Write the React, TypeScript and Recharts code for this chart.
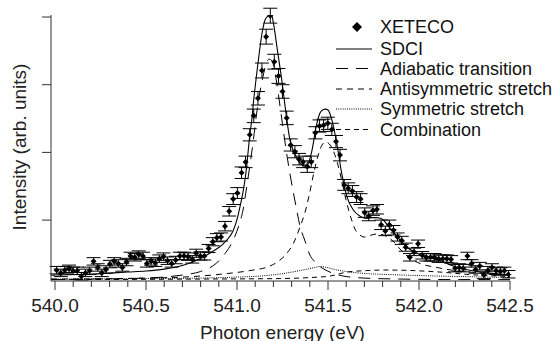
import React from 'react';
import { ComposedChart, Line, Scatter, ErrorBar, XAxis, YAxis, Legend, Label } from 'recharts';

// ---- XETECO data points ----
const energies = [
  540.009, 540.032, 540.054, 540.077, 540.099, 540.122, 540.145, 540.167, 540.19, 540.212,
  540.235, 540.257, 540.28, 540.302, 540.325, 540.348, 540.37, 540.393, 540.415, 540.438,
  540.46, 540.483, 540.505, 540.528, 540.551, 540.573, 540.596, 540.618, 540.641, 540.663,
  540.686, 540.709, 540.731, 540.754, 540.776, 540.799, 540.821, 540.844, 540.867, 540.889,
  540.912, 540.934, 540.957, 540.979, 541.002, 541.025, 541.047, 541.07, 541.092, 541.115,
  541.137, 541.16, 541.183, 541.205, 541.228, 541.25, 541.273, 541.295, 541.318, 541.341,
  541.363, 541.386, 541.408, 541.431, 541.453, 541.476, 541.499, 541.521, 541.544, 541.566,
  541.589, 541.611, 541.634, 541.657, 541.679, 541.702, 541.724, 541.747, 541.769, 541.792,
  541.815, 541.837, 541.86, 541.882, 541.905, 541.927, 541.95, 541.973, 541.995, 542.018,
  542.04, 542.063, 542.085, 542.108, 542.131, 542.153, 542.176, 542.198, 542.221, 542.243,
  542.266, 542.289, 542.311, 542.334, 542.356, 542.379, 542.401, 542.424, 542.447, 542.469,
  542.492,
];
const intensities = [
  0.26, 0.22, 0.26, 0.28, 0.25, 0.25, 0.17, 0.22, 0.25, 0.39,
  0.3, 0.22, 0.27, 0.35, 0.39, 0.36, 0.3, 0.38, 0.47, 0.45,
  0.49, 0.47, 0.36, 0.39, 0.37, 0.43, 0.46, 0.4, 0.36, 0.41,
  0.47, 0.47, 0.46, 0.42, 0.51, 0.47, 0.47, 0.58, 0.68, 0.74,
  0.75, 0.91, 1.13, 1.31, 1.4, 1.7, 1.86, 2.26, 2.54, 2.8,
  3.21, 3.71, 4.02, 3.34, 3.13, 2.9, 2.51, 2.11, 2.01, 1.9,
  1.86, 1.79, 1.86, 2.29, 2.39, 2.4, 2.43, 2.34, 2.16, 1.96,
  1.52, 1.47, 1.43, 1.34, 1.31, 1.11, 1.06, 1.14, 1.16, 0.93,
  0.84, 0.93, 0.85, 0.75, 0.7, 0.6, 0.45, 0.53, 0.65, 0.48,
  0.45, 0.45, 0.45, 0.43, 0.43, 0.43, 0.42, 0.29, 0.3, 0.29,
  0.47, 0.36, 0.27, 0.32, 0.19, 0.26, 0.3, 0.25, 0.24, 0.25,
  0.2,
];
const errors = [
  0.055, 0.055, 0.055, 0.055, 0.055, 0.055, 0.055, 0.055, 0.055, 0.055,
  0.055, 0.055, 0.055, 0.055, 0.055, 0.055, 0.055, 0.055, 0.055, 0.055,
  0.055, 0.055, 0.055, 0.055, 0.055, 0.055, 0.055, 0.055, 0.055, 0.055,
  0.055, 0.055, 0.055, 0.055, 0.06, 0.06, 0.06, 0.06, 0.06, 0.06,
  0.06, 0.07, 0.07, 0.08, 0.08, 0.085, 0.085, 0.09, 0.1, 0.1,
  0.11, 0.11, 0.11, 0.11, 0.11, 0.1, 0.1, 0.09, 0.09, 0.085,
  0.085, 0.085, 0.085, 0.09, 0.09, 0.09, 0.09, 0.09, 0.09, 0.085,
  0.08, 0.08, 0.08, 0.08, 0.08, 0.07, 0.07, 0.07, 0.07, 0.07,
  0.07, 0.07, 0.07, 0.06, 0.06, 0.06, 0.055, 0.055, 0.055, 0.055,
  0.055, 0.055, 0.055, 0.055, 0.055, 0.055, 0.055, 0.055, 0.055, 0.055,
  0.055, 0.055, 0.055, 0.055, 0.055, 0.055, 0.055, 0.055, 0.055, 0.055,
  0.055,
];

// ---- model curves: [energy, intensity] ----
const sdci = [
  [539.978, 0.185], [540.0, 0.188], [540.1, 0.195], [540.2, 0.203], [540.3, 0.217],
  [540.4, 0.232], [540.5, 0.247], [540.6, 0.276], [540.7, 0.328], [540.8, 0.432],
  [540.852, 0.513], [540.888, 0.572], [540.923, 0.646], [540.962, 0.764], [540.978, 0.838],
  [541.005, 1.059], [541.016, 1.193], [541.033, 1.414], [541.049, 1.695], [541.062, 2.035],
  [541.071, 2.271], [541.081, 2.478], [541.09, 2.729], [541.108, 3.158], [541.123, 3.484],
  [541.136, 3.734], [541.154, 3.956], [541.17, 4.015], [541.181, 4.03], [541.192, 4.01],
  [541.203, 3.867], [541.221, 3.527], [541.246, 3.069], [541.269, 2.581], [541.291, 2.182],
  [541.308, 2.035], [541.328, 1.917], [541.346, 1.843], [541.374, 1.798], [541.39, 1.828],
  [541.41, 2.005], [541.438, 2.419], [541.456, 2.581], [541.474, 2.633], [541.486, 2.64],
  [541.5, 2.626], [541.52, 2.493], [541.548, 2.138], [541.575, 1.695], [541.603, 1.355],
  [541.639, 1.148], [541.676, 1.059], [541.713, 1.023], [541.742, 1.037], [541.769, 1.037],
  [541.797, 1.015], [541.823, 0.941], [541.877, 0.764], [541.932, 0.602], [541.987, 0.513],
  [542.042, 0.454], [542.115, 0.402], [542.187, 0.321], [542.258, 0.269], [542.335, 0.232],
  [542.418, 0.21], [542.5, 0.188],
];
const adiabatic = [
  [539.978, 0.121], [540.0, 0.121], [540.2, 0.129], [540.4, 0.136], [540.5, 0.143],
  [540.6, 0.158], [540.7, 0.188], [540.8, 0.24], [540.852, 0.299], [540.888, 0.365],
  [540.923, 0.469], [540.962, 0.616], [540.989, 0.764], [541.016, 0.971], [541.033, 1.148],
  [541.049, 1.414], [541.071, 1.813], [541.09, 2.182], [541.108, 2.581], [541.123, 2.847],
  [541.141, 3.098], [541.159, 3.298], [541.176, 3.379], [541.192, 3.35], [541.203, 3.261],
  [541.214, 3.098], [541.234, 2.729], [541.253, 2.36], [541.275, 1.946], [541.297, 1.591],
  [541.324, 1.207], [541.346, 0.912], [541.374, 0.69], [541.398, 0.498], [541.429, 0.38],
  [541.456, 0.313], [541.498, 0.247], [541.549, 0.195], [541.599, 0.166], [541.698, 0.143],
  [541.896, 0.129], [542.225, 0.121], [542.5, 0.121],
];
const antisymmetric = [
  [539.978, 0.129], [540.0, 0.129], [540.5, 0.143], [540.797, 0.173], [540.945, 0.21],
  [541.071, 0.254], [541.181, 0.321], [541.236, 0.409], [541.275, 0.513], [541.308, 0.646],
  [541.346, 0.897], [541.374, 1.118], [541.398, 1.385], [541.423, 1.71], [541.448, 1.976],
  [541.467, 2.109], [541.486, 2.153], [541.505, 2.131], [541.522, 2.064], [541.547, 1.887],
  [541.575, 1.591], [541.599, 1.296], [541.63, 1.0], [541.648, 0.868], [541.676, 0.779],
  [541.698, 0.749], [541.731, 0.772], [541.764, 0.794], [541.797, 0.786], [541.824, 0.757],
  [541.857, 0.69], [541.896, 0.572], [541.934, 0.469], [542.0, 0.365], [542.099, 0.299],
  [542.198, 0.254], [542.346, 0.217], [542.5, 0.188],
];
const symmetric = [
  [539.978, 0.129], [540.0, 0.129], [540.5, 0.136], [540.797, 0.143], [541.0, 0.158],
  [541.126, 0.173], [541.236, 0.203], [541.319, 0.24], [541.374, 0.269], [541.412, 0.291],
  [541.456, 0.313], [541.495, 0.299], [541.538, 0.269], [541.599, 0.24], [541.709, 0.21],
  [541.841, 0.195], [542.005, 0.18], [542.225, 0.166], [542.5, 0.151],
];
const combination = [
  [539.978, 0.121], [540.0, 0.121], [540.797, 0.129], [541.236, 0.136], [541.401, 0.151],
  [541.511, 0.173], [541.604, 0.232], [541.714, 0.254], [541.813, 0.262], [541.967, 0.254],
  [542.115, 0.232], [542.28, 0.195], [542.5, 0.166],
];

// ---- axes ----
const xTicks = [
  540.0, 540.1, 540.2, 540.3, 540.4, 540.5, 540.6, 540.7, 540.8, 540.9,
  541.0, 541.1, 541.2, 541.3, 541.4, 541.5, 541.6, 541.7, 541.8, 541.9,
  542.0, 542.1, 542.2, 542.3, 542.4, 542.5,
];
const xMajor = [540.0, 540.5, 541.0, 541.5, 542.0, 542.5];
const yTicks = [1, 2, 3, 4];

const legendNames = ['XETECO', 'SDCI', 'Adiabatic transition', 'Antisymmetric stretch', 'Symmetric stretch', 'Combination'];

const FONT = "'Liberation Sans', Arial, Helvetica, sans-serif";
const AXIS = '#333';
const INK = '#000';

const toRows = (arr: number[][]) => arr.map(([x, y]) => ({ x, y }));
const points = energies.map((x, i) => ({ x, y: intensities[i], err: errors[i] }));

const XTick = (props: any) => {
  const { x, y, payload } = props;
  const v = payload.value;
  const isMajor = xMajor.some((m) => Math.abs(m - v) < 1e-6);
  return (
    <g>
      <line x1={x} x2={x} y1={y} y2={y + (isMajor ? 9 : 6)} stroke={AXIS} strokeWidth={1} />
      {isMajor && (
        <text x={x} y={y + 31} textAnchor="middle" fontSize={19} fontFamily={FONT} fill="#222">
          {v.toFixed(1)}
        </text>
      )}
    </g>
  );
};

const NoTick = () => null;

const YTitle = (props: any) => {
  const vb = props.viewBox || { x: 0, y: 15, width: 51, height: 266 };
  const cx = vb.x + 26;
  const cy = vb.y + vb.height / 2 - 1;
  return (
    <text x={cx} y={cy} transform={`rotate(-90 ${cx} ${cy})`} textAnchor="middle" fontSize={19} fontFamily={FONT} fill="#222">
      Intensity (arb. units)
    </text>
  );
};

const XTitle = (props: any) => {
  const vb = props.viewBox || { x: 51, y: 281, width: 459, height: 60 };
  const cx = vb.x + vb.width / 2 + 2;
  const cy = vb.y + 57.5;
  return (
    <text x={cx} y={cy} textAnchor="middle" fontSize={19} fontFamily={FONT} fill="#222">
      Photon energy (eV)
    </text>
  );
};

const Diamond = (props: any) => {
  const { cx, cy } = props;
  if (cx == null || cy == null) return null;
  const s = 3;
  return <polygon points={`${cx},${cy - s} ${cx + s},${cy} ${cx},${cy + s} ${cx - s},${cy}`} fill={INK} />;
};

const dashes = [undefined, undefined, '12 8', '6 5', '1 1.2', '5 4'];

const LegendBox = () => {
  const baselines = [23, 45, 64.5, 85, 105, 125.5];
  return (
    <svg width={230} height={135} style={{ display: 'block', overflow: 'visible' }}>
      {legendNames.map((name, i) => {
        const ly = baselines[i] - 6;
        return (
          <g key={name}>
            {i === 0 ? (
              <polygon points={`27,${ly - 5} 32,${ly} 27,${ly + 5} 22,${ly}`} fill={INK} />
            ) : (
              <line x1={6} x2={42} y1={ly} y2={ly} stroke={INK} strokeWidth={1} strokeDasharray={dashes[i]} />
            )}
            <text x={50} y={baselines[i]} fontSize={18} fontFamily={FONT} fill="#111">
              {name}
            </text>
          </g>
        );
      })}
    </svg>
  );
};

export default function App() {
  return (
    <div style={{ position: 'absolute', left: 0, top: 0, width: 558, height: 341, background: '#fff' }}>
      <ComposedChart width={558} height={341} margin={{ top: 15, right: 48, bottom: 0, left: 0 }}>
        <XAxis
          dataKey="x"
          type="number"
          domain={[539.978, 542.5]}
          allowDataOverflow
          ticks={xTicks}
          interval={0}
          tick={XTick}
          tickLine={false}
          tickSize={0}
          tickMargin={0}
          height={60}
          axisLine={{ stroke: AXIS, strokeWidth: 1 }}
        >
          <Label content={XTitle} />
        </XAxis>
        <YAxis
          dataKey="y"
          type="number"
          domain={[0.1, 4.03]}
          allowDataOverflow
          ticks={yTicks}
          interval={0}
          width={51}
          tick={NoTick}
          tickSize={9}
          tickLine={{ stroke: AXIS, strokeWidth: 1 }}
          axisLine={{ stroke: AXIS, strokeWidth: 1 }}
        >
          <Label content={YTitle} />
        </YAxis>
        <Legend
          content={() => <LegendBox />}
          layout="vertical"
          align="center"
          verticalAlign="middle"
          wrapperStyle={{ left: 330, top: 10, width: 230, height: 135 }}
        />
        <Line data={toRows(combination)} dataKey="y" type="monotone" stroke={INK} strokeWidth={1} strokeDasharray="5 4" dot={false} isAnimationActive={false} />
        <Line data={toRows(symmetric)} dataKey="y" type="monotone" stroke={INK} strokeWidth={1} strokeDasharray="1 1.2" dot={false} isAnimationActive={false} />
        <Line data={toRows(antisymmetric)} dataKey="y" type="monotone" stroke={INK} strokeWidth={1} strokeDasharray="6 5" dot={false} isAnimationActive={false} />
        <Line data={toRows(adiabatic)} dataKey="y" type="monotone" stroke={INK} strokeWidth={1} strokeDasharray="12 8" dot={false} isAnimationActive={false} />
        <Line data={toRows(sdci)} dataKey="y" type="monotone" stroke={INK} strokeWidth={1.1} dot={false} isAnimationActive={false} />
        <Scatter data={points} dataKey="y" shape={Diamond} fill={INK} isAnimationActive={false}>
          <ErrorBar dataKey="err" direction="y" width={7} stroke={INK} strokeWidth={1} />
        </Scatter>
      </ComposedChart>
    </div>
  );
}
